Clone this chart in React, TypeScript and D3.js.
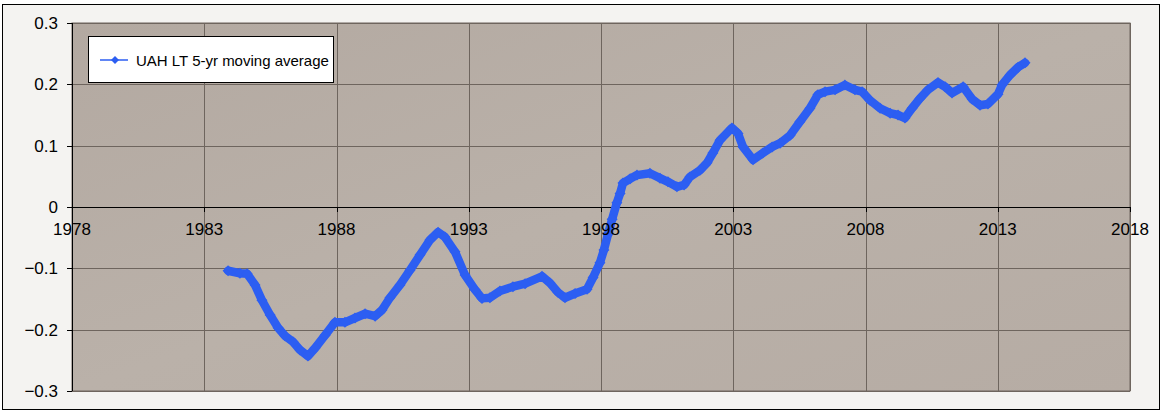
import React from "react";
import * as d3 from "d3";

const years: number[] = [
  1983.9, 1984.35, 1984.62, 1984.92, 1985.18, 1985.49, 1985.79, 1986.05, 1986.36, 1986.62,
  1986.92, 1987.19, 1987.57, 1987.94, 1988.32, 1988.7, 1989.08, 1989.46, 1989.72, 1990.02,
  1990.4, 1990.78, 1991.16, 1991.53, 1991.84, 1992.1, 1992.48, 1992.86, 1993.24, 1993.5,
  1993.8, 1994.18, 1994.67, 1995.13, 1995.77, 1996.07, 1996.37, 1996.64, 1997.02, 1997.47,
  1997.7, 1997.96, 1998.11, 1998.26, 1998.42, 1998.6, 1998.72, 1998.83, 1999.1, 1999.36,
  1999.85, 2000.23, 2000.53, 2000.87, 2001.14, 2001.36, 2001.74, 2002.01, 2002.23, 2002.5,
  2002.95, 2003.18, 2003.37, 2003.75, 2004.12, 2004.47, 2004.77, 2005.15, 2005.52, 2005.9,
  2006.2, 2006.47, 2006.85, 2007.22, 2007.6, 2007.87, 2008.17, 2008.55, 2008.93, 2009.23,
  2009.49, 2009.76, 2010.06, 2010.36, 2010.74, 2011.01, 2011.27, 2011.69, 2012.03, 2012.33,
  2012.63, 2013.01, 2013.16, 2013.46, 2013.77, 2014.03,
];

const uahValues: number[] = [
  -0.104, -0.108, -0.109, -0.127, -0.152, -0.176, -0.197, -0.21, -0.22, -0.233,
  -0.243, -0.23, -0.209, -0.188, -0.188, -0.181, -0.174, -0.178, -0.168, -0.148,
  -0.127, -0.103, -0.078, -0.054, -0.041, -0.049, -0.073, -0.111, -0.135, -0.149,
  -0.148, -0.137, -0.13, -0.125, -0.113, -0.124, -0.139, -0.148, -0.141, -0.134,
  -0.115, -0.091, -0.07, -0.045, -0.02, 0.007, 0.022, 0.039, 0.046, 0.052,
  0.055, 0.047, 0.041, 0.033, 0.036, 0.049, 0.06, 0.072, 0.088, 0.109,
  0.129, 0.12, 0.098, 0.077, 0.088, 0.098, 0.104, 0.117, 0.139, 0.161,
  0.183, 0.188, 0.191, 0.199, 0.191, 0.188, 0.174, 0.161, 0.153, 0.15,
  0.145, 0.161, 0.177, 0.191, 0.203, 0.196, 0.186, 0.196, 0.176, 0.166,
  0.168, 0.184, 0.199, 0.215, 0.228, 0.235,
];

const xTicks: number[] = [1978, 1983, 1988, 1993, 1998, 2003, 2008, 2013, 2018];
const yTicks: number[] = [0.3, 0.2, 0.1, 0, -0.1, -0.2, -0.3];
const seriesName = "UAH LT 5-yr moving average";

const W = 1165;
const H = 416;
const plot = { left: 72, right: 1130, top: 23, bottom: 391 };
const BLUE = "#2c5ef2";
const FONT = "Arial, 'Liberation Sans', sans-serif";

export default function App() {
  const x = d3.scaleLinear().domain([1978, 2018]).range([plot.left, plot.right]);
  const y = d3.scaleLinear().domain([-0.3, 0.3]).range([plot.bottom, plot.top]);
  const pts = years.map((yr, i) => [yr, uahValues[i]] as [number, number]);
  const line = d3
    .line<[number, number]>()
    .x((d) => x(d[0]))
    .y((d) => y(d[1]));
  const diamond = (cx: number, cy: number, r: number) =>
    `M${cx},${cy - r}L${cx + r},${cy}L${cx},${cy + r}L${cx - r},${cy}Z`;

  return (
    <svg
      width={W}
      height={H}
      style={{ position: "absolute", left: 0, top: 0, display: "block" }}
    >
      <defs>
        <linearGradient id="bg" x1="0" y1="0" x2="1" y2="1">
          <stop offset="0" stopColor="#b3a9a1" />
          <stop offset="0.5" stopColor="#bab1a9" />
          <stop offset="1" stopColor="#b6aca4" />
        </linearGradient>
      </defs>
      <rect x={0} y={0} width={W} height={H} fill="#ffffff" />
      <rect x={2.5} y={4.5} width={1157} height={405} fill="#f4f3f1" stroke="#000" strokeWidth={1} />
      <rect
        x={plot.left}
        y={plot.top}
        width={plot.right - plot.left}
        height={plot.bottom - plot.top}
        fill="url(#bg)"
        stroke="#6e655e"
        strokeWidth={1}
      />
      {yTicks.map((t) => (
        <line
          key={"gy" + t}
          x1={plot.left}
          x2={plot.right}
          y1={Math.round(y(t)) + 0.5}
          y2={Math.round(y(t)) + 0.5}
          stroke={t === 0 ? "#000" : "#6e655e"}
          strokeWidth={1}
        />
      ))}
      {xTicks.map((t) => (
        <line
          key={"gx" + t}
          x1={Math.round(x(t)) + 0.5}
          x2={Math.round(x(t)) + 0.5}
          y1={plot.top}
          y2={plot.bottom}
          stroke="#6e655e"
          strokeWidth={1}
        />
      ))}
      <line x1={plot.left + 0.5} x2={plot.left + 0.5} y1={plot.top} y2={plot.bottom} stroke="#000" />
      {yTicks.map((t) => (
        <g key={"ty" + t}>
          <line
            x1={plot.left - 5}
            x2={plot.left}
            y1={Math.round(y(t)) + 0.5}
            y2={Math.round(y(t)) + 0.5}
            stroke="#000"
          />
          <text
            x={58}
            y={y(t) + 6}
            textAnchor="end"
            fontFamily={FONT}
            fontSize={17}
            fill="#000"
          >
            {t === 0 ? "0" : d3.format(".1f")(t)}
          </text>
        </g>
      ))}
      <path d={line(pts) || ""} fill="none" stroke={BLUE} strokeWidth={8.5} strokeLinejoin="round" strokeLinecap="round" />
      {pts.map((d, i) => (
        <path key={"m" + i} d={diamond(x(d[0]), y(d[1]), 5.5)} fill={BLUE} />
      ))}
      {xTicks.map((t) => (
        <g key={"tx" + t}>
          <line
            x1={Math.round(x(t)) + 0.5}
            x2={Math.round(x(t)) + 0.5}
            y1={y(0)}
            y2={y(0) + 5}
            stroke="#000"
          />
          <text
            x={x(t)}
            y={y(0) + 28}
            textAnchor="middle"
            fontFamily={FONT}
            fontSize={17}
            fill="#000"
          >
            {t}
          </text>
        </g>
      ))}
      <rect x={88.5} y={36.5} width={245} height={46} fill="#fff" stroke="#000" strokeWidth={1} />
      <line x1={100} x2={128} y1={60} y2={60} stroke={BLUE} strokeWidth={1.5} />
      <path d={diamond(115, 60, 4)} fill={BLUE} />
      <text x={136} y={65.5} fontFamily={FONT} fontSize={15} fill="#000">
        {seriesName}
      </text>
    </svg>
  );
}
